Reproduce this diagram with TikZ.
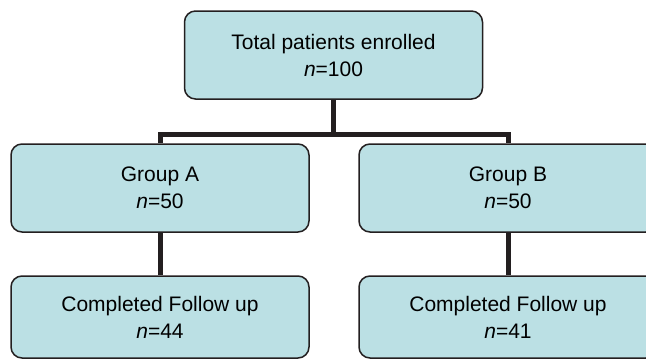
\documentclass[tikz,border=0pt]{standalone}
\usepackage{fontspec}
\setmainfont{Liberation Sans}
\usetikzlibrary{positioning}
\definecolor{boxfill}{RGB}{187,224,228}
\definecolor{edgegray}{RGB}{35,31,32}
\tikzset{
  box/.style={draw=edgegray, line width=1.5pt, fill=boxfill, rounded corners=11pt,
    minimum width=298pt, minimum height=88pt, inner sep=0pt, align=center,
    font=\fontsize{21}{27}\selectfont},
  link/.style={draw=edgegray, line width=5pt, line join=miter}
}
\begin{document}
\begin{tikzpicture}[x=1pt,y=1pt]
\clip (0,0) rectangle (646,360);
\useasboundingbox (0,0) rectangle (646,360);
\node[box] (total) at (333.5,305) {Total patients enrolled\\\textit{n}=100};
\node[box] (grpA) at (160,172) {Group A\\\textit{n}=50};
\node[box] (grpB) at (508,172) {Group B\\\textit{n}=50};
\node[box, minimum height=82pt] (doneA) at (160,43) {Completed Follow up\\\textit{n}=44};
\node[box, minimum height=82pt] (doneB) at (508,43) {Completed Follow up\\\textit{n}=41};
\coordinate (split) at (333.5,226);
\draw[link] (total.south) -- (split);
\draw[link] (grpA.north) -- (grpA.north |- split) -- (grpB.north |- split) -- (grpB.north);
\draw[link] (grpA.south) -- (doneA.north);
\draw[link] (grpB.south) -- (doneB.north);
\end{tikzpicture}
\end{document}
